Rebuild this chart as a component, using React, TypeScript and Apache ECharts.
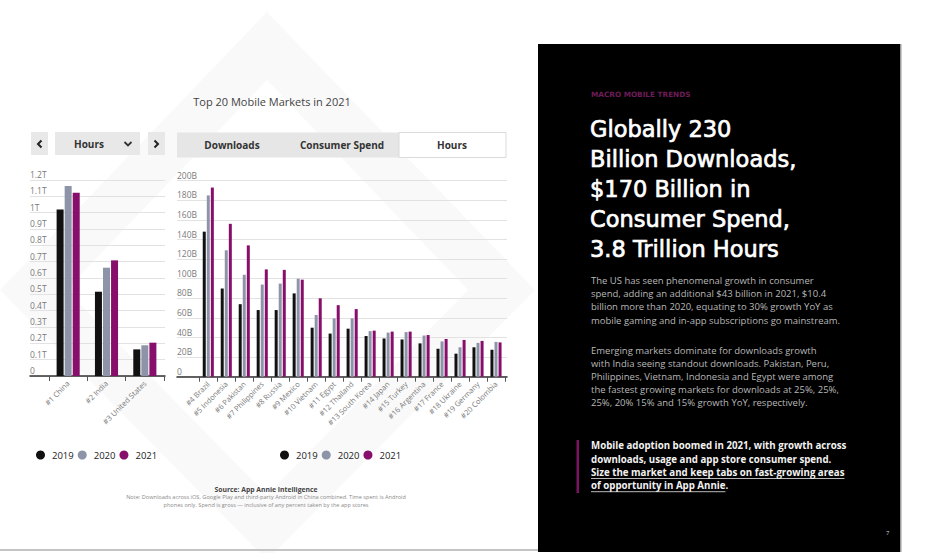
import React, { useEffect, useRef } from 'react';
import * as echarts from 'echarts';

const FONT = '"Open Sans", "Noto Sans", sans-serif';
const HEAD_FONT = '"DejaVu Sans", "Open Sans", sans-serif';

const seriesNames = ['2019', '2020', '2021'];
const seriesColors = ['#111111', '#8d94a8', '#870f6b'];

const leftCategories = ['#1 China', '#2 India', '#3 United States'];
const left2019 = [1020, 516, 163];
const left2020 = [1163, 663, 188];
const left2021 = [1122, 708, 204];
const leftTickLabels = ['0', '0.1T', '0.2T', '0.3T', '0.4T', '0.5T', '0.6T', '0.7T', '0.8T', '0.9T', '1T', '1.1T', '1.2T'];

const rightCategories = [
  '#4 Brazil', '#5 Indonesia', '#6 Pakistan', '#7 Philippines', '#8 Russia', '#9 Mexico',
  '#10 Vietnam', '#11 Egypt', '#12 Thailand', '#13 South Korea', '#14 Japan', '#15 Turkey',
  '#16 Argentina', '#17 France', '#18 Ukraine', '#19 Germany', '#20 Colombia',
];
const right2019 = [148, 90, 74, 68, 68, 85, 50, 44, 49, 41.5, 39, 38, 34, 28.5, 23.5, 30, 27.5];
const right2020 = [185, 129, 104, 94, 95, 100, 63, 59.5, 59.5, 46.5, 45, 45.5, 42, 36, 30, 34.5, 35.5];
const right2021 = [193, 156, 134, 109.5, 109, 99, 80, 73, 69, 47, 46, 46, 42.5, 38.5, 37.5, 36.5, 35];
const rightTickLabels = ['0', '20B', '40B', '60B', '80B', '100B', '120B', '140B', '160B', '180B', '200B'];

const headlineLines = ['Globally 230', 'Billion Downloads,', '$170 Billion in', 'Consumer Spend,', '3.8 Trillion Hours'];
const para1 = [
  'The US has seen phenomenal growth in consumer',
  'spend, adding an additional $43 billion in 2021, $10.4',
  'billion more than 2020, equating to 30% growth YoY as',
  'mobile gaming and in-app subscriptions go mainstream.',
];
const para2 = [
  'Emerging markets dominate for downloads growth',
  'with India seeing standout downloads. Pakistan, Peru,',
  'Philippines, Vietnam, Indonesia and Egypt were among',
  'the fastest growing markets for downloads at 25%, 25%,',
  '25%, 20% 15% and 15% growth YoY, respectively.',
];
const quoteLines = [
  'Mobile adoption boomed in 2021, with growth across',
  'downloads, usage and app store consumer spend.',
  'Size the market and keep tabs on fast-growing areas',
  'of opportunity in App Annie.',
];

function measure(text: string, font: string): number {
  const c = document.createElement('canvas').getContext('2d');
  if (!c) return text.length * 5;
  c.font = font;
  return c.measureText(text).width;
}

function txt(text: string, x: number, y: number, size: number, fill: string, opts: any = {}) {
  const style: any = {
    text,
    fill,
    font: `${opts.weight ?? 'normal'} ${size}px ${opts.family ?? FONT}`,
    textAlign: opts.align ?? 'left',
    textVerticalAlign: 'middle',
  };
  if (opts.stroke) {
    style.stroke = opts.stroke;
    style.lineWidth = opts.lineWidth ?? 0.5;
  }
  return { type: 'text', x, y, z: opts.z ?? 5, silent: true, style };
}

function buildOption() {
  const g: any[] = [];
  // page background + watermark
  g.push({ type: 'rect', z: -30, silent: true, shape: { x: 0, y: 0, width: 925, height: 553 }, style: { fill: '#ffffff' } });
  g.push({
    type: 'polygon', z: -29, silent: true,
    shape: { points: [[267, 12], [535, 290], [267, 560], [0, 290]] },
    style: { fill: '#f9f9f9' },
  });
  g.push({
    type: 'polygon', z: -28, silent: true,
    shape: { points: [[267, 80], [468, 290], [267, 495], [66, 290]] },
    style: { fill: '#ffffff' },
  });
  // bottom rule
  g.push({ type: 'rect', z: -5, silent: true, shape: { x: 0, y: 549, width: 540, height: 2 }, style: { fill: '#c4c4c4' } });
  // black panel
  g.push({ type: 'rect', z: 1, silent: true, shape: { x: 538, y: 44, width: 362, height: 508 }, style: { fill: '#000000' } });
  g.push({ type: 'rect', z: 1, silent: true, shape: { x: 900, y: 44, width: 1.5, height: 508 }, style: { fill: '#9a9a9a' } });

  // title
  g.push(txt('Top 20 Mobile Markets in 2021', 272, 101, 11, '#444444', { align: 'center' }));

  // left controls
  g.push({ type: 'rect', z: 2, silent: true, shape: { x: 31, y: 132, width: 17, height: 23 }, style: { fill: '#e8e8e8' } });
  g.push({ type: 'polyline', z: 3, silent: true, shape: { points: [[41.5, 140.5], [38, 144], [41.5, 147.5]] }, style: { stroke: '#222', lineWidth: 2, fill: 'none' } });
  g.push({ type: 'rect', z: 2, silent: true, shape: { x: 55, y: 132, width: 85, height: 23 }, style: { fill: '#e8e8e8' } });
  g.push(txt('Hours', 89, 144, 10, '#333333', { align: 'center', weight: 'bold' }));
  g.push({ type: 'polyline', z: 3, silent: true, shape: { points: [[124.5, 142], [128, 145.5], [131.5, 142]] }, style: { stroke: '#333', lineWidth: 1.8, fill: 'none' } });
  g.push({ type: 'rect', z: 2, silent: true, shape: { x: 148, y: 132, width: 17, height: 23 }, style: { fill: '#e8e8e8' } });
  g.push({ type: 'polyline', z: 3, silent: true, shape: { points: [[154.5, 140.5], [158, 144], [154.5, 147.5]] }, style: { stroke: '#222', lineWidth: 2, fill: 'none' } });

  // tabs
  g.push({ type: 'rect', z: 2, silent: true, shape: { x: 177, y: 132.5, width: 329, height: 25 }, style: { fill: '#e6e6e6' } });
  g.push({ type: 'rect', z: 2, silent: true, shape: { x: 399, y: 132.5, width: 107, height: 25 }, style: { fill: '#ffffff', stroke: '#dadada', lineWidth: 1 } });
  g.push(txt('Downloads', 232, 145, 10, '#333333', { align: 'center', weight: 'bold' }));
  g.push(txt('Consumer Spend', 342, 145, 10, '#333333', { align: 'center', weight: 'bold' }));
  g.push(txt('Hours', 452, 145, 10, '#333333', { align: 'center', weight: 'bold' }));

  // source
  g.push(txt('Source: App Annie Intelligence', 266, 489, 6.8, '#444444', { align: 'center', weight: 'bold' }));
  g.push(txt('Note: Downloads across iOS, Google Play and third-party Android in China combined. Time spent is Android', 266, 497, 5.6, '#8a8a8a', { align: 'center' }));
  g.push(txt('phones only. Spend is gross \u2014 inclusive of any percent taken by the app stores', 266, 505, 5.6, '#8a8a8a', { align: 'center' }));

  // right panel
  g.push(txt('MACRO MOBILE TRENDS', 591, 94.5, 7.3, '#6e1c57', { weight: 'bold', family: '"DejaVu Sans", sans-serif' }));
  const hy = [128.5, 158.5, 188.5, 218.8, 249];
  headlineLines.forEach((l, i) => g.push(txt(l, 590, hy[i], 22.5, '#ffffff', { family: HEAD_FONT, stroke: '#ffffff', lineWidth: 0.7 })));
  const p1y = [280, 293.3, 306.6, 320];
  para1.forEach((l, i) => g.push(txt(l, 591, p1y[i], 9.5, '#b8b8b8')));
  const p2y = [350, 363, 376, 389, 402];
  para2.forEach((l, i) => g.push(txt(l, 591, p2y[i], 9.5, '#b8b8b8')));
  g.push({ type: 'rect', z: 3, silent: true, shape: { x: 576.5, y: 440, width: 2.5, height: 53 }, style: { fill: '#7b1562' } });
  const qy = [445.7, 459, 472.5, 485.7];
  const qSize = 9.7;
  const qFont = `bold ${qSize}px ${FONT}`;
  quoteLines.forEach((l, i) => g.push(txt(l, 591, qy[i], qSize, '#f2f2f2', { weight: 'bold' })));
  const u1 = measure(quoteLines[2], qFont);
  const u2 = measure('of opportunity in App Annie', qFont);
  g.push({ type: 'line', z: 5, silent: true, shape: { x1: 591, y1: qy[2] + 6, x2: 591 + u1, y2: qy[2] + 6 }, style: { stroke: '#e8e8e8', lineWidth: 0.8 } });
  g.push({ type: 'line', z: 5, silent: true, shape: { x1: 591, y1: qy[3] + 6, x2: 591 + u2, y2: qy[3] + 6 }, style: { stroke: '#e8e8e8', lineWidth: 0.8 } });
  g.push(txt('7', 886, 533, 6, '#cccccc'));

  const bgX = (gridIndex: number) => ({
    type: 'category', gridIndex, data: [''],
    axisLine: { show: true, lineStyle: { color: '#333333', width: 1.5 } },
    axisTick: { show: false }, axisLabel: { show: false }, splitLine: { show: false },
  });
  const barX = (gridIndex: number, data: string[]) => ({
    type: 'category', gridIndex, data,
    axisLine: { show: false },
    axisTick: { show: true, length: 5, lineStyle: { color: '#555555' } },
    axisLabel: { interval: 0, rotate: 45, fontSize: 7.5, color: '#7a7a7a', fontFamily: FONT, margin: 6 },
    splitLine: { show: false },
  });
  const bgY = (gridIndex: number, max: number, interval: number, labels: string[]) => ({
    type: 'value', gridIndex, min: 0, max, interval,
    axisLine: { show: false }, axisTick: { show: false },
    splitLine: { show: true, lineStyle: { color: '#e2e2e2', width: 1 } },
    axisLabel: {
      inside: true, margin: 0, align: 'left', verticalAlign: 'bottom', padding: [0, 0, 1, 0],
      fontSize: 8.5, color: '#7a7a7a', fontFamily: FONT,
      formatter: (_v: number, i: number) => labels[i] ?? '',
    },
  });
  const hideY = (gridIndex: number, max: number) => ({ type: 'value', gridIndex, min: 0, max, show: false, splitLine: { show: false } });

  const leftData = [left2019, left2020, left2021];
  const rightData = [right2019, right2020, right2021];
  const series: any[] = [];
  seriesNames.forEach((n, i) => {
    series.push({
      type: 'bar', name: n, xAxisIndex: 1, yAxisIndex: 1, data: leftData[i],
      barWidth: 7, barGap: '15%', itemStyle: { color: seriesColors[i] },
    });
  });
  seriesNames.forEach((n, i) => {
    series.push({
      type: 'bar', name: n, xAxisIndex: 3, yAxisIndex: 3, data: rightData[i],
      barWidth: 3, barGap: '35%', itemStyle: { color: seriesColors[i] },
    });
  });

  const legendBase = {
    data: seriesNames, icon: 'circle', itemWidth: 9, itemHeight: 9, itemGap: 4, top: 445,
    textStyle: { fontSize: 9.5, color: '#222222', fontFamily: FONT, padding: [0, 0, 0, 2] }, selectedMode: false,
  };

  return {
    animation: false,
    backgroundColor: '#ffffff',
    grid: [
      { left: 30, top: 180, width: 135, height: 196, outerBoundsMode: 'none' },
      { left: 49, top: 180, width: 115, height: 196, outerBoundsMode: 'none' },
      { left: 177, top: 180.7, width: 330, height: 196, outerBoundsMode: 'none' },
      { left: 199.3, top: 180.7, width: 305.7, height: 196, outerBoundsMode: 'none' },
    ],
    xAxis: [bgX(0), barX(1, leftCategories), bgX(2), barX(3, rightCategories)],
    yAxis: [
      bgY(0, 1200, 100, leftTickLabels), hideY(1, 1200),
      bgY(2, 200, 20, rightTickLabels), hideY(3, 200),
    ],
    legend: [
      { ...legendBase, left: 31 },
      { ...legendBase, left: 275 },
    ],
    series,
    graphic: { elements: g },
  };
}

export default function App() {
  const ref = useRef<HTMLDivElement>(null);
  useEffect(() => {
    document.body.style.margin = '0';
    const chart = echarts.init(ref.current!, null, { renderer: 'svg' });
    chart.setOption(buildOption() as any);
    return () => chart.dispose();
  }, []);
  return <div ref={ref} style={{ width: 925, height: 553 }} />;
}
